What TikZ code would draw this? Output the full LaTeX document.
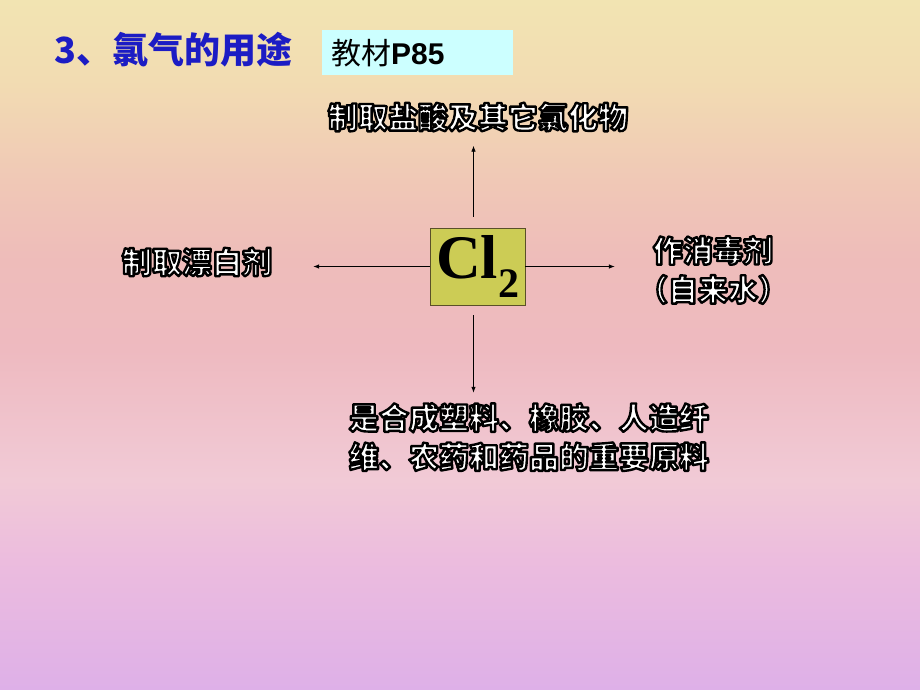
\documentclass[tikz,border=0pt]{standalone}
\usepackage{fontspec}
\newfontfamily\cjk{Noto Sans CJK SC}
\newfontfamily\tnr{Liberation Serif}
\newfontfamily\arl{Liberation Sans}
\usetikzlibrary{arrows.meta}
\definecolor{bgA}{RGB}{242,228,178}
\definecolor{bgB}{RGB}{242,220,178}
\definecolor{bgC}{RGB}{240,200,182}
\definecolor{bgD}{RGB}{238,188,186}
\definecolor{bgE}{RGB}{238,186,192}
\definecolor{bgF}{RGB}{241,202,214}
\definecolor{bgG}{RGB}{236,188,222}
\definecolor{bgH}{RGB}{222,176,232}
\definecolor{titleblue}{RGB}{28,28,196}
\definecolor{cyanbox}{RGB}{204,255,255}
\definecolor{clfill}{RGB}{204,204,85}
\definecolor{clborder}{RGB}{90,80,40}
\newcommand\outltext[1]{\special{pdf:literal direct 2 Tr 2.4 w 0 G 1 j}#1\special{pdf:literal direct 0 Tr}}
\tikzset{
  uselabel/.style={font=\cjk\bfseries\fontsize{30}{39}\selectfont, text=white, inner sep=0pt, align=center},
  arr/.style={-{Latex[length=6pt,width=4.5pt]}, line width=0.7pt, draw=black},
}
\begin{document}
\begin{tikzpicture}[x=1pt,y=-1pt]
\useasboundingbox (0,0) rectangle (920,690);
% background
\shade[top color=bgA,bottom color=bgB] (0,0) rectangle (920,80.5);
\shade[top color=bgB,bottom color=bgC] (0,80) rectangle (920,180.5);
\shade[top color=bgC,bottom color=bgD] (0,180) rectangle (920,260.5);
\shade[top color=bgD,bottom color=bgE] (0,260) rectangle (920,350.5);
\shade[top color=bgE,bottom color=bgF] (0,350) rectangle (920,480.5);
\shade[top color=bgF,bottom color=bgG] (0,480) rectangle (920,560.5);
\shade[top color=bgG,bottom color=bgH] (0,560) rectangle (920,690);
% title
\node[anchor=west, inner sep=0pt, text=titleblue, font=\cjk\bfseries\fontsize{36}{40}\selectfont] (title) at (54,50) {3、氯气的用途};
\node[fill=cyanbox, minimum width=191pt, minimum height=45pt, inner sep=0pt] (book) at (417.5,52.5) {};
\node[anchor=west, inner sep=0pt, font=\fontsize{30}{36}\selectfont] (booktext) at (331,53) {\cjk 教材\arl\bfseries P85};
% central node
\node[fill=clfill, draw=clborder, line width=0.8pt, minimum width=95pt, minimum height=77pt, inner sep=0pt,
      font=\tnr\bfseries\fontsize{62}{62}\selectfont] (cl) at (477.5,266.5) {Cl\raisebox{-0.3em}{\fontsize{42}{42}\selectfont 2}};
% labels
\node[uselabel] (top) at (478,117) {\outltext{制取盐酸及其它氯化物}};
\node[uselabel] (left) at (197,262) {\outltext{制取漂白剂}};
\node[uselabel] (right) at (713,270) {\outltext{作消毒剂}\\\outltext{（自来水）}};
\node[uselabel] (bottom) at (529,437) {\outltext{是合成塑料、橡胶、人造纤}\\\outltext{维、农药和药品的重要原料}};
% connectors
\draw[arr, shorten >=14pt] ([xshift=-4pt,yshift=11pt]cl.north) -- ([xshift=-4pt]cl.north |- top.south);
\draw[arr, shorten >=41pt] (cl.west) -- (cl.west -| left.east);
\draw[arr, shorten >=23pt] (cl.east) -- (cl.east -| right.west);
\draw[arr, shorten <=10pt, shorten >=10pt] ([xshift=-4pt]cl.south) -- ([xshift=-4pt]cl.south |- bottom.north);
\end{tikzpicture}
\end{document}
